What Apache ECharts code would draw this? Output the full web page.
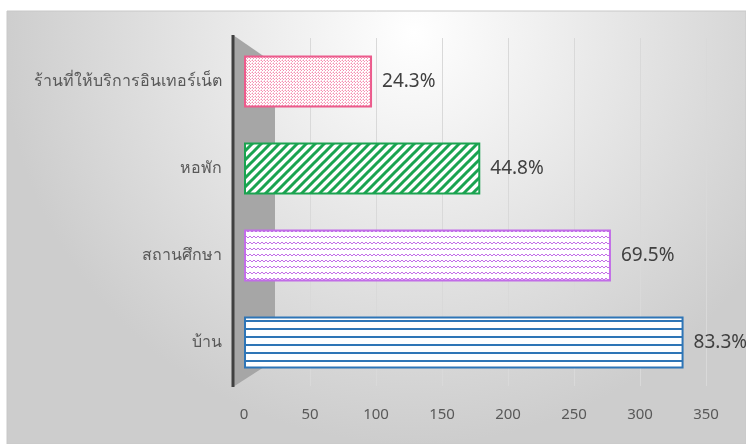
<!DOCTYPE html>
<html><head><meta charset="utf-8">
<script src="https://cdn.jsdelivr.net/npm/echarts@6/dist/echarts.min.js"></script>
<style>html,body{margin:0;padding:0;background:#fff;}#c{width:746px;height:444px;}</style>
</head><body><div id="c"></div>
<script>
// bottom-to-top order
const categories = ['บ้าน', 'สถานศึกษา', 'หอพัก', 'ร้านที่ให้บริการอินเทอร์เน็ต'];
const counts = [333, 278, 179, 97];
const percents = [83.3, 69.5, 44.8, 24.3];
const xTicks = [0, 50, 100, 150, 200, 250, 300, 350];

function pat(w, h, draw) {
  const c = document.createElement('canvas');
  c.width = w; c.height = h;
  const g = c.getContext('2d');
  g.fillStyle = '#ffffff'; g.fillRect(0, 0, w, h);
  draw(g);
  return { image: c, repeat: 'repeat' };
}
const blueCol = '#2e75b6', purpleCol = '#c26de8', greenCol = '#1aa350', pinkCol = '#ec5b8c';
const patterns = [
  pat(8, 8, g => { g.fillStyle = blueCol; g.fillRect(0, 0, 8, 2); }),
  pat(8, 6, g => { g.strokeStyle = purpleCol; g.lineWidth = 1; g.beginPath(); g.moveTo(0, 4); g.lineTo(2, 2); g.lineTo(4, 4); g.lineTo(6, 2); g.lineTo(8, 4); g.stroke(); }),
  pat(9, 9, g => { g.strokeStyle = greenCol; g.lineWidth = 3; g.beginPath(); g.moveTo(-2, 11); g.lineTo(11, -2); g.moveTo(-11, 11); g.lineTo(2, -2); g.moveTo(7, 11); g.lineTo(20, -2); g.stroke(); }),
  pat(3, 3, g => { g.fillStyle = '#f58fb2'; g.fillRect(0, 0, 1, 1); g.fillRect(1, 1, 1, 1); g.fillStyle = '#fbd0de'; g.fillRect(2, 0, 1, 1); g.fillRect(0, 2, 1, 1); })
];
const borders = [blueCol, purpleCol, greenCol, pinkCol];

const chart = echarts.init(document.getElementById('c'));
const gridL = 244, gridR = 40, gridT = 38, gridB = 58;
chart.setOption({
  backgroundColor: '#ffffff',
  animation: false,
  graphic: [{
    type: 'rect', z: -10, silent: true,
    shape: { x: 7, y: 11, width: 739, height: 433 },
    style: {
      fill: { type: 'radial', x: 0.55, y: 0.05, r: 0.95,
        colorStops: [{ offset: 0, color: '#ffffff' }, { offset: 1, color: '#cdcdcd' }] },
      stroke: '#c8c8c8', lineWidth: 1
    }
  }],
  grid: { left: gridL, right: gridR, top: gridT, bottom: gridB, containLabel: false },
  xAxis: {
    type: 'value', min: 0, max: 350, interval: 50,
    axisLine: { show: false }, axisTick: { show: false },
    axisLabel: { color: '#595959', fontSize: 15, margin: 21, fontFamily: 'Noto Sans',
      formatter: v => xTicks.indexOf(v) >= 0 ? String(v) : '' },
    splitLine: { show: true, showMinLine: false, lineStyle: { color: '#d9d9d9', width: 1 } }
  },
  yAxis: {
    type: 'category', data: categories,
    axisLine: { show: false },
    axisTick: { show: false },
    axisLabel: { color: '#595959', fontSize: 16, margin: 22, fontFamily: 'Noto Sans' }
  },
  series: [{
    type: 'bar', barWidth: 52, z: 5,
    data: counts.map((v, i) => ({
      value: v,
      itemStyle: { color: patterns[i], borderColor: borders[i], borderWidth: 2 }
    })),
    label: {
      show: true, position: 'right', distance: 10,
      color: '#404040', fontSize: 19, fontFamily: 'Noto Sans',
      formatter: p => percents[p.dataIndex].toFixed(1) + '%'
    }
  }]
});

// decorative side wall behind bars, positioned from the axis
const x0 = chart.convertToPixel({ xAxisIndex: 0 }, 0);
const wallTop = gridT, wallBot = 444 - gridB;
chart.setOption({
  graphic: [{}, {
    type: 'polygon', z: -5, silent: true,
    shape: { points: [[x0 - 11, wallTop - 3], [x0 + 31, wallTop + 26], [x0 + 31, wallBot - 26], [x0 - 11, wallBot + 1]] },
    style: { fill: '#a6a6a6' }
  }, {
    type: 'line', z: -4, silent: true,
    shape: { x1: x0 - 11, y1: wallTop - 3, x2: x0 - 11, y2: wallBot + 1 },
    style: { stroke: '#404040', lineWidth: 3 }
  }]
});
</script></body></html>
